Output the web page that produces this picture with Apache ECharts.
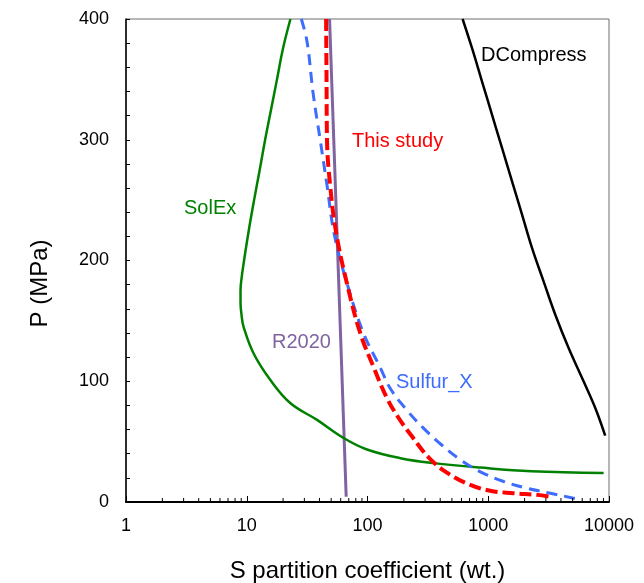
<!DOCTYPE html>
<html>
<head>
<meta charset="utf-8">
<title>S partition coefficient vs pressure</title>
<script src="https://cdn.jsdelivr.net/npm/echarts@6/dist/echarts.min.js"></script>
<style>
  html, body { margin: 0; padding: 0; background: #fff; }
  #chart { width: 644px; height: 583px; }
</style>
</head>
<body>
<div id="chart"></div>
<script>
// Model curves: [S partition coefficient, P in MPa]
const solEx = [
  [23.0, 400], [19.9, 375], [17.8, 350], [15.9, 325], [14.2, 300], [12.8, 275],
  [11.5, 250], [10.4, 225], [9.5, 200], [9.05, 185], [8.88, 175], [8.88, 165],
  [9.05, 155], [9.42, 145], [11.4, 123], [15.7, 101], [22.9, 82], [38.2, 68],
  [63.4, 53], [99, 43.5], [187, 36.3], [353, 32.2], [860, 28.5], [2265, 25.5],
  [9020, 24]
];
const r2020 = [[48.5, 400], [66.6, 4.4]];
const thisStudy = [
  [45.4, 400], [45.8, 350], [46.2, 300], [49.2, 261], [55.0, 223], [67.6, 181],
  [87.0, 140], [112, 112], [145, 86], [180, 70], [235, 54], [331, 35.5],
  [485, 22.5], [710, 14.2], [1040, 9.3], [1622, 7.3], [2533, 5.9], [3300, 4.3]
];
const sulfurX = [
  [28.3, 400], [31.6, 381], [35.5, 338], [40.7, 299], [46.4, 261], [53.0, 222],
  [67.7, 181], [92.5, 140], [128, 111], [154.5, 94], [212, 76], [292, 61],
  [414, 47], [587, 35], [860, 25], [1342, 17], [2094, 11.4], [3266, 7.3],
  [5090, 3.1], [5780, 1.7]
];
const dCompress = [
  [613, 400], [733, 376], [887, 348.4], [1074, 320.8], [1300, 293.2], [1574, 265.6],
  [1905, 238], [2303, 210.4], [2873, 182.7], [3592, 155.1], [4630, 127.5],
  [6170, 99.8], [7710, 77.7], [9300, 55]
];

// Axis ticks
const xDecades = [1, 10, 100, 1000, 10000];
const xTickLabels = ['1', '10', '100', '1000', '10000'];
const yTickLabels = ['0', '100', '200', '300', '400'];
const xMinorTicks = [];
for (let d = 0; d < xDecades.length - 1; d++) {
  for (let k = 2; k <= 9; k++) xMinorTicks.push(xDecades[d] * k);
}

const FONT = '"Liberation Sans", Arial, Helvetica, sans-serif';
const chart = echarts.init(document.getElementById('chart'), null, { renderer: 'canvas' });

function lineSeries(name, data, color, width, dash, z) {
  return {
    name: name,
    type: 'line',
    data: data,
    showSymbol: false,
    symbol: 'none',
    smooth: 0.4,
    z: z,
    lineStyle: { color: color, width: width, type: dash || 'solid', cap: 'butt' },
    emphasis: { disabled: true }
  };
}

const option = {
  animation: false,
  backgroundColor: '#ffffff',
  grid: {
    left: 126, top: 19, width: 483, height: 483,
    containLabel: false,
    outerBoundsMode: 'none',
    show: true, borderColor: '#6e6e6e', borderWidth: 1, backgroundColor: 'transparent'
  },
  xAxis: {
    type: 'log',
    logBase: 10,
    min: 1,
    max: 10000,
    name: 'S partition coefficient (wt.)',
    nameLocation: 'middle',
    nameGap: 57,
    nameTextStyle: { fontFamily: FONT, fontSize: 24, color: '#000' },
    axisLine: { show: true, onZero: false, lineStyle: { color: '#000', width: 2 } },
    axisTick: { show: true, inside: true, length: 6, lineStyle: { color: '#000', width: 1 } },
    minorTick: { show: false },
    splitLine: { show: false },
    axisLabel: {
      fontFamily: FONT, fontSize: 18, color: '#000', margin: 15,
      formatter: function (v) {
        const i = xDecades.indexOf(Math.round(v));
        return i >= 0 ? xTickLabels[i] : '';
      }
    }
  },
  yAxis: {
    type: 'value',
    min: 0,
    max: 400,
    interval: 100,
    name: 'P (MPa)',
    nameLocation: 'middle',
    nameGap: 74,
    nameRotate: 90,
    nameTextStyle: { fontFamily: FONT, fontSize: 24, color: '#000', padding: [0, 46, 0, 0] },
    axisLine: { show: true, onZero: false, lineStyle: { color: '#000', width: 1.5 } },
    axisTick: { show: true, inside: true, length: 4, lineStyle: { color: '#000', width: 1 } },
    minorTick: { show: true, splitNumber: 5, length: 4, lineStyle: { color: '#000', width: 1 } },
    splitLine: { show: false },
    axisLabel: {
      fontFamily: FONT, fontSize: 18, color: '#000', margin: 17,
      formatter: function (v) { return yTickLabels[Math.round(v / 100)]; }
    }
  },
  series: [
    lineSeries('R2020', r2020, '#8064A2', 3, 'solid', 2),
    lineSeries('SolEx', solEx, '#008000', 2.5, 'solid', 3),
    lineSeries('Sulfur_X', sulfurX, '#3D6CFF', 3, [11, 7], 4),
    lineSeries('This study', thisStudy, '#FF0000', 4, [12, 5], 5),
    lineSeries('DCompress', dCompress, '#000000', 2.5, 'solid', 6),
    {
      // minor log ticks along the bottom axis, inside the plot
      type: 'custom',
      name: 'xMinorTicks',
      data: xMinorTicks.map(function (v) { return [v, 0]; }),
      z: 10,
      silent: true,
      clip: false,
      renderItem: function (params, api) {
        const p = api.coord([api.value(0), 0]);
        return {
          type: 'line',
          shape: { x1: p[0], y1: p[1], x2: p[0], y2: p[1] - 4 },
          style: { stroke: '#000', lineWidth: 1 }
        };
      }
    }
  ],
  graphic: [
    { type: 'text', left: 481, top: 45, style: { text: 'DCompress', font: '20px ' + FONT, fill: '#000000' } },
    { type: 'text', left: 352, top: 131, style: { text: 'This study', font: '20px ' + FONT, fill: '#FF0000' } },
    { type: 'text', left: 184, top: 198, style: { text: 'SolEx', font: '20px ' + FONT, fill: '#008000' } },
    { type: 'text', left: 272, top: 332, style: { text: 'R2020', font: '20px ' + FONT, fill: '#8064A2' } },
    { type: 'text', left: 396, top: 372, style: { text: 'Sulfur_X', font: '20px ' + FONT, fill: '#3D6CFF' } }
  ]
};

chart.setOption(option);
</script>
</body>
</html>
